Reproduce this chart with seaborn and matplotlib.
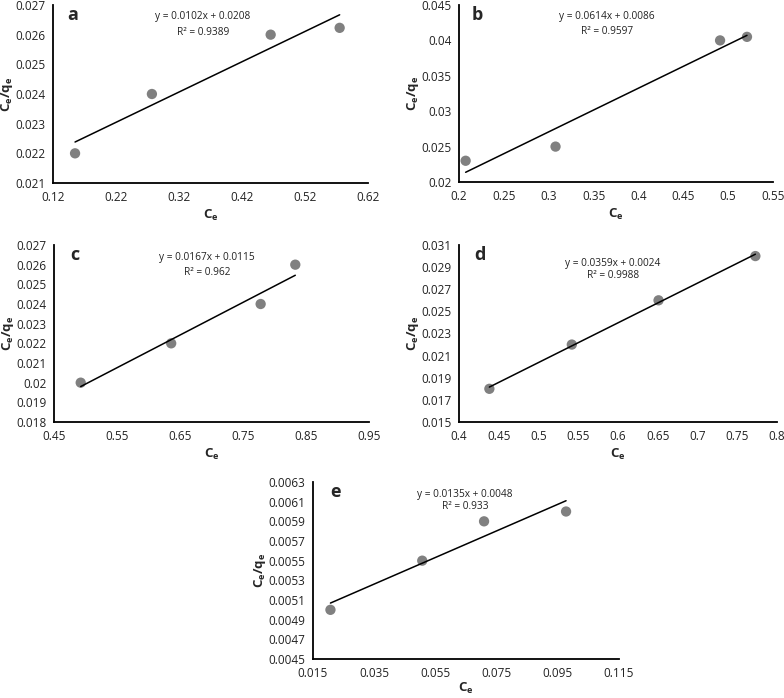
import matplotlib
matplotlib.use("Agg")
import matplotlib.pyplot as plt
import seaborn as sns
import pandas as pd
import numpy as np

sns.set_theme(style="white")
plt.rcParams['font.family'] = ['Open Sans', 'DejaVu Sans']
plt.rcParams['mathtext.fontset'] = 'custom'
plt.rcParams['mathtext.rm'] = 'Open Sans'
plt.rcParams['mathtext.bf'] = 'Open Sans:bold'
plt.rcParams['mathtext.it'] = 'Open Sans:italic'

POINT_COLOR = '#808080'

# Panel data: Ce vs Ce/qe
ce_a = [0.155, 0.277, 0.4655, 0.575]
cq_a = [0.0220, 0.0240, 0.0260, 0.02623]
ce_b = [0.2074, 0.3076, 0.491, 0.521]
cq_b = [0.0230, 0.0250, 0.0400, 0.0405]
ce_c = [0.4924, 0.636, 0.778, 0.833]
cq_c = [0.0200, 0.0220, 0.0240, 0.0260]
ce_d = [0.4382, 0.5419, 0.651, 0.7728]
cq_d = [0.0180, 0.0220, 0.0260, 0.0300]
ce_e = [0.0207, 0.0507, 0.0709, 0.0977]
cq_e = [0.0050, 0.0055, 0.0059, 0.0060]

equations = ['y = 0.0102x + 0.0208', 'y = 0.0614x + 0.0086', 'y = 0.0167x + 0.0115',
             'y = 0.0359x + 0.0024', 'y = 0.0135x + 0.0048']
r2_labels = ['R² = 0.9389', 'R² = 0.9597', 'R² = 0.962', 'R² = 0.9988', 'R² = 0.933']
panel_letters = ['a', 'b', 'c', 'd', 'e']

x_ticks = [
    [0.12, 0.22, 0.32, 0.42, 0.52, 0.62],
    [0.2, 0.25, 0.3, 0.35, 0.4, 0.45, 0.5, 0.55],
    [0.45, 0.55, 0.65, 0.75, 0.85, 0.95],
    [0.4, 0.45, 0.5, 0.55, 0.6, 0.65, 0.7, 0.75, 0.8],
    [0.015, 0.035, 0.055, 0.075, 0.095, 0.115],
]
x_tick_labels = [
    ['0.12', '0.22', '0.32', '0.42', '0.52', '0.62'],
    ['0.2', '0.25', '0.3', '0.35', '0.4', '0.45', '0.5', '0.55'],
    ['0.45', '0.55', '0.65', '0.75', '0.85', '0.95'],
    ['0.4', '0.45', '0.5', '0.55', '0.6', '0.65', '0.7', '0.75', '0.8'],
    ['0.015', '0.035', '0.055', '0.075', '0.095', '0.115'],
]
y_ticks = [
    [0.021, 0.022, 0.023, 0.024, 0.025, 0.026, 0.027],
    [0.02, 0.025, 0.03, 0.035, 0.04, 0.045],
    [0.018, 0.019, 0.02, 0.021, 0.022, 0.023, 0.024, 0.025, 0.026, 0.027],
    [0.015, 0.017, 0.019, 0.021, 0.023, 0.025, 0.027, 0.029, 0.031],
    [0.0045, 0.0047, 0.0049, 0.0051, 0.0053, 0.0055, 0.0057, 0.0059, 0.0061, 0.0063],
]
y_tick_labels = [
    ['0.021', '0.022', '0.023', '0.024', '0.025', '0.026', '0.027'],
    ['0.02', '0.025', '0.03', '0.035', '0.04', '0.045'],
    ['0.018', '0.019', '0.02', '0.021', '0.022', '0.023', '0.024', '0.025', '0.026', '0.027'],
    ['0.015', '0.017', '0.019', '0.021', '0.023', '0.025', '0.027', '0.029', '0.031'],
    ['0.0045', '0.0047', '0.0049', '0.0051', '0.0053', '0.0055', '0.0057', '0.0059', '0.0061', '0.0063'],
]

panels = [(ce_a, cq_a), (ce_b, cq_b), (ce_c, cq_c), (ce_d, cq_d), (ce_e, cq_e)]

W, H = 784, 698
# axes boxes in pixels: left, top, right, bottom
boxes = [(53, 5, 368, 183), (459, 5, 773, 182), (54, 245, 369, 422),
         (459, 245, 777, 422), (313, 482, 619, 659)]
# text placements in axes fraction: letter (x, y), equation x, equation y, r2 y
text_pos = [
    ((0.063, 0.944), 0.476, 0.933, 0.848),
    ((0.057, 0.944), 0.471, 0.933, 0.848),
    ((0.067, 0.944), 0.486, 0.932, 0.847),
    ((0.066, 0.944), 0.484, 0.893, 0.825),
    ((0.075, 0.944), 0.497, 0.932, 0.864),
]
xlabel_pads = [3, 3, 3, 3, 1]

fig = plt.figure(figsize=(W / 100, H / 100), dpi=100)

for i, (ce, cq) in enumerate(panels):
    l, t, r, b = boxes[i]
    ax = fig.add_axes([l / W, 1 - b / H, (r - l) / W, (b - t) / H])
    df = pd.DataFrame({'Ce': ce, 'Ce/qe': cq})
    sns.regplot(data=df, x='Ce', y='Ce/qe', ax=ax, ci=None, truncate=True,
                scatter_kws={'s': 55, 'color': POINT_COLOR, 'edgecolor': 'none', 'alpha': 1},
                line_kws={'color': 'black', 'linewidth': 1.1})
    ax.set_xlim(x_ticks[i][0], x_ticks[i][-1])
    ax.set_ylim(y_ticks[i][0], y_ticks[i][-1])
    ax.set_xticks(x_ticks[i], labels=x_tick_labels[i])
    ax.set_yticks(y_ticks[i], labels=y_tick_labels[i])
    ax.tick_params(direction='inout', length=5, width=1.2, color='black',
                   labelsize=8.5, labelcolor='#222222', pad=3)
    for side in ['top', 'right']:
        ax.spines[side].set_visible(False)
    for side in ['left', 'bottom']:
        ax.spines[side].set_color('black')
        ax.spines[side].set_linewidth(1.3)
    ax.set_xlabel(r'$\mathbf{C_e}$', fontsize=9.5, labelpad=xlabel_pads[i])
    ax.set_ylabel(r'$\mathbf{C_e/q_e}$', fontsize=9.5, labelpad=0)

    (lx, ly), ex, ey, ry = text_pos[i]
    ax.text(lx, ly, panel_letters[i], transform=ax.transAxes, fontsize=13,
            fontweight='bold', ha='center', va='center')
    ax.text(ex, ey, equations[i], transform=ax.transAxes, fontsize=7.3,
            ha='center', va='center', color='#222222')
    ax.text(ex, ry, r2_labels[i], transform=ax.transAxes, fontsize=7.3,
            ha='center', va='center', color='#222222')

fig.savefig('out.png', dpi=100, facecolor='white')
